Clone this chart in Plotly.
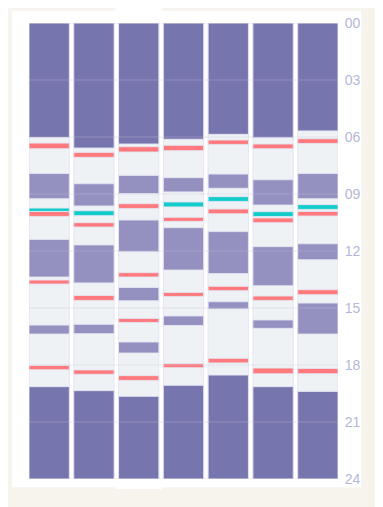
import plotly.graph_objects as go

days = [0, 1, 2, 3, 4, 5, 6]
hour_ticks = [0, 3, 6, 9, 12, 15, 18, 21, 24]
hour_labels = ["00", "03", "06", "09", "12", "15", "18", "21", "24"]

night_end = [6.03, 6.58, 6.37, 6.12, 5.86, 6.04, 5.68]
night_start = [19.14, 19.35, 19.65, 19.07, 18.53, 19.14, 19.39]

nap_day = [0, 0, 0, 1, 1, 1, 2, 2, 2, 2, 3, 3, 3, 4, 4, 4, 5, 5, 5, 6, 6, 6]
nap_start = [7.92, 11.39, 15.90, 8.46, 11.68, 15.86, 8.02, 10.37, 13.92, 16.79,
             8.14, 10.77, 15.42, 7.95, 10.98, 14.67, 8.25, 11.77, 15.63, 7.92, 11.62, 14.74]
nap_end = [9.25, 13.37, 16.37, 9.63, 13.68, 16.35, 8.98, 12.04, 14.62, 17.37,
           8.89, 13.00, 15.92, 8.70, 13.19, 15.05, 9.58, 13.83, 16.07, 9.25, 12.46, 16.37]

feed_day = [0, 0, 0, 0, 1, 1, 1, 1, 2, 2, 2, 2, 2, 3, 3, 3, 3, 4, 4, 4, 4, 5, 5, 5, 5, 6, 6, 6, 6]
feed_start = [6.32, 9.92, 13.53, 18.02, 6.81, 10.51, 14.34, 18.26, 6.51, 9.51, 13.14, 15.55, 18.56,
              6.44, 10.23, 14.18, 17.93, 6.16, 9.79, 13.86, 17.65, 6.37, 10.26, 14.37, 18.16,
              6.09, 9.92, 14.04, 18.18]
feed_end = [6.62, 10.18, 13.74, 18.25, 7.07, 10.74, 14.60, 18.49, 6.79, 9.76, 13.37, 15.76, 18.81,
            6.72, 10.44, 14.39, 18.14, 6.39, 10.04, 14.09, 17.89, 6.62, 10.51, 14.60, 18.46,
            6.34, 10.16, 14.30, 18.46]

med_day = [0, 1, 3, 4, 5, 6]
med_start = [9.74, 9.88, 9.42, 9.14, 9.93, 9.56]
med_end = [9.92, 10.14, 9.68, 9.39, 10.19, 9.81]

highlight_day = 2

C_AWAKE = "#eef2f5"
C_NIGHT = "#7775ad"
C_NAP = "#9491c1"
C_FEED = "#ff797d"
C_MED = "#12cccc"
LINE = dict(color="rgba(228,228,242,0.9)", width=1)

fig = go.Figure()


def add(xs, starts, ends, color):
    fig.add_trace(go.Bar(
        x=xs, base=starts, y=[e - s for s, e in zip(starts, ends)],
        marker=dict(color=color, line=LINE), hoverinfo="skip", showlegend=False))


add(days, [0] * len(days), [24] * len(days), C_AWAKE)
add(days, [0] * len(days), night_end, C_NIGHT)
add(days, night_start, [24] * len(days), C_NIGHT)
add(nap_day, nap_start, nap_end, C_NAP)
add(feed_day, feed_start, feed_end, C_FEED)
add(med_day, med_start, med_end, C_MED)

shapes = [
    dict(type="rect", xref="paper", yref="paper", x0=-0.055, x1=1.075, y0=-0.018, y1=1.027,
         fillcolor="white", line=dict(width=0), layer="below"),
    dict(type="rect", xref="x", yref="paper", x0=highlight_day - 0.52, x1=highlight_day + 0.52,
         y0=-0.022, y1=1.04, fillcolor="white", line=dict(width=0), layer="below"),
]
for t in hour_ticks:
    shapes.append(dict(type="line", xref="paper", yref="y", x0=0, x1=1, y0=t, y1=t,
                       line=dict(color="rgba(195,198,215,0.35)", width=1), layer="above"))

fig.update_layout(
    width=383, height=507,
    margin=dict(l=21, r=52.7, t=15.3, b=35.7, autoexpand=False),
    paper_bgcolor="#f6f4ec",
    plot_bgcolor="rgba(0,0,0,0)",
    barmode="overlay",
    bargap=0.1,
    shapes=shapes,
    font=dict(family="Liberation Sans", size=14, color="#b5b7d7"),
    xaxis=dict(range=[-0.45, 6.45], visible=False, fixedrange=True, automargin=False),
    yaxis=dict(range=[24, 0], side="right", tickvals=hour_ticks, ticktext=hour_labels,
               showgrid=False, zeroline=False, showline=False, ticks="outside",
               ticklen=3, tickcolor="rgba(0,0,0,0)", fixedrange=True, automargin=False),
)

fig.write_html("out.html")
